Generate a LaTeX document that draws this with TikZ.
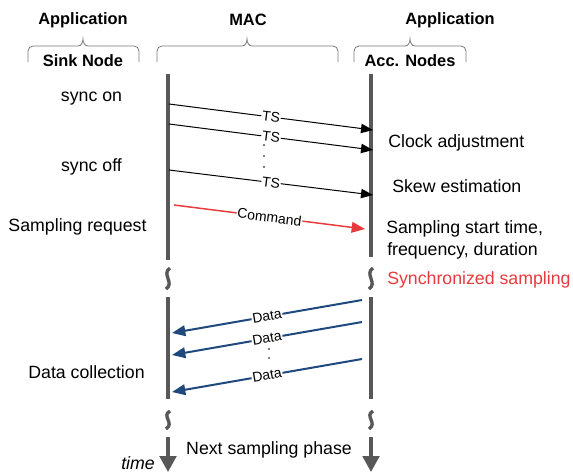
\documentclass[tikz,border=0pt]{standalone}
\usepackage{fontspec}
\setmainfont{Liberation Sans}
\usetikzlibrary{arrows.meta}
\definecolor{lifegray}{RGB}{88,88,88}
\definecolor{bracegray}{RGB}{120,120,120}
\definecolor{cmdred}{RGB}{232,58,60}
\definecolor{datablue}{RGB}{31,73,125}
\begin{document}
\begin{tikzpicture}[x=0.75pt,y=-0.75pt,
  hdr/.style={font=\fontsize{12.3}{14}\selectfont\bfseries, inner sep=0pt},
  txt/.style={font=\fontsize{13.3}{16}\selectfont, inner sep=0pt},
  lbl/.style={font=\fontsize{10.5}{12}\selectfont, fill=white, inner sep=0.6pt, sloped},
  life/.style={draw=lifegray, line width=2.3pt},
  wave/.style={draw=lifegray, line width=2.5pt},
  brc/.style={draw=bracegray, line width=0.6pt},
  tsarrow/.style={draw=black, line width=0.75pt, -{Triangle[length=9pt,width=7pt]}},
  cmdarrow/.style={draw=cmdred, line width=1.1pt, -{Triangle[length=10pt,width=8pt]}},
  dataarrow/.style={draw=datablue, line width=1.5pt, -{Triangle[length=10pt,width=8pt]}},
  timearrow/.style={draw=lifegray, line width=2.3pt, -{Triangle[length=12pt,width=12.5pt]}},
  dot/.style={circle, fill=black, inner sep=0pt, minimum size=1.4pt}
]
\useasboundingbox (0,0) rectangle (573,472);

% headers
\node[hdr] (app1) at (83,20) {Application};
\node[hdr] (mac) at (248,20) {MAC};
\node[hdr] (app2) at (450,20) {Application};
\node[hdr] (sink) at (83,61) {Sink Node};
\node[hdr] (acc) at (410,61) {Acc. Nodes};

% braces
\draw[brc] (28,62) -- (28,51) to[out=90,in=180] (33,46) -- (78,46) to[out=0,in=-90] (83,39) to[out=-90,in=180] (88,46) -- (134,46) to[out=0,in=90] (139,51) -- (139,62);
\draw[brc] (157,62) -- (157,51) to[out=90,in=180] (162,46) -- (242,46) to[out=0,in=-90] (247,39) to[out=-90,in=180] (252,46) -- (333,46) to[out=0,in=90] (338,51) -- (338,62);
\draw[brc] (354,62) -- (354,51) to[out=90,in=180] (359,46) -- (405,46) to[out=0,in=-90] (410,39) to[out=-90,in=180] (415,46) -- (461,46) to[out=0,in=90] (466,51) -- (466,62);

% lifelines
\coordinate (L1t) at (168,74);  \coordinate (L1b) at (168,260);
\coordinate (R1t) at (371,74);  \coordinate (R1b) at (371,257);
\coordinate (L2t) at (168,297); \coordinate (L2b) at (168,399);
\coordinate (R2t) at (371,297); \coordinate (R2b) at (371,399);
\coordinate (L3t) at (168,437); \coordinate (L3b) at (168,472);
\coordinate (R3t) at (371,437); \coordinate (R3b) at (371,472);
\draw[life] (L1t) -- (L1b);
\draw[life] (R1t) -- (R1b);
\draw[life] (L2t) -- (L2b);
\draw[life] (R2t) -- (R2b);
\draw[timearrow] (L3t) -- (L3b);
\draw[timearrow] (R3t) -- (R3b);

% breaks
\foreach \xx in {168,371}{
  \draw[wave] (\xx+2,268) .. controls (\xx-7,274) and (\xx+7,283) .. (\xx-2,289);
  \draw[wave] (\xx+2,411) .. controls (\xx-7,416) and (\xx+7,423) .. (\xx-2,429);
}

% TS arrows
\coordinate (ts1s) at (169,104); \coordinate (ts1e) at (373,130);
\coordinate (ts2s) at (169,124); \coordinate (ts2e) at (373,150);
\coordinate (ts3s) at (169,170); \coordinate (ts3e) at (373,195);
\draw[tsarrow] (ts1s) -- node[lbl] {TS} (ts1e);
\draw[tsarrow] (ts2s) -- node[lbl] {TS} (ts2e);
\draw[tsarrow] (ts3s) -- node[lbl] {TS} (ts3e);
\node[dot] (d1) at (264,145) {};
\node[dot] (d2) at (264,156) {};
\node[dot] (d3) at (264,167) {};

% command arrow
\coordinate (cmds) at (174,205); \coordinate (cmde) at (365,229);
\draw[cmdarrow] (cmds) -- node[lbl] {Command} (cmde);

% data arrows
\coordinate (da1s) at (362,300); \coordinate (da1e) at (172,333);
\coordinate (da2s) at (362,322); \coordinate (da2e) at (172,355);
\coordinate (da3s) at (362,359); \coordinate (da3e) at (172,392);
\draw[dataarrow] (da1s) -- node[lbl] {Data} (da1e);
\draw[dataarrow] (da2s) -- node[lbl] {Data} (da2e);
\draw[dataarrow] (da3s) -- node[lbl] {Data} (da3e);
\node[dot] (d4) at (269,349) {};
\node[dot] (d5) at (269,358) {};

% left texts
\node[txt] (syncon) at (91.5,99) {sync on};
\node[txt] (syncoff) at (91.5,167) {sync off};
\node[txt] (sreq) at (77.5,227) {Sampling request};
\node[txt] (dcol) at (86.5,372) {Data collection};
\node[txt, font=\fontsize{13.3}{16}\selectfont\itshape] (time) at (138,463) {time};

% right texts
\node[txt, anchor=west] (clk) at (388,143) {Clock adjustment};
\node[txt, anchor=west] (skew) at (392,186) {Skew estimation};
\node[txt, anchor=west] (sst) at (386,229) {Sampling start time,};
\node[txt, anchor=west] (freq) at (387,251) {frequency, duration};
\node[txt, anchor=west, text=cmdred] (syn) at (387,280) {Synchronized sampling};
\node[txt] (next) at (269,450) {Next sampling phase};
\end{tikzpicture}
\end{document}
